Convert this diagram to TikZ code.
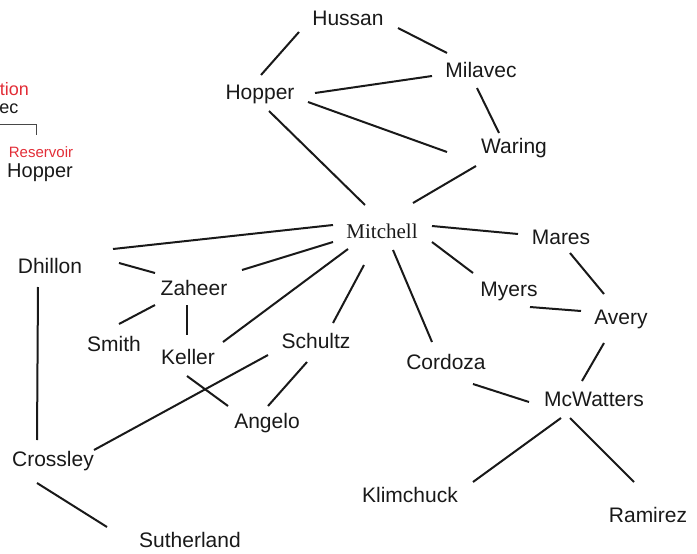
\documentclass[tikz,border=0pt]{standalone}
\usepackage{fontspec}
\setmainfont{Liberation Sans}
\newfontfamily\serifname{Liberation Serif}
\definecolor{tagred}{RGB}{226,45,55}
\definecolor{ink}{RGB}{25,25,25}
\begin{document}
\begin{tikzpicture}[x=1pt,y=-1pt,
  person/.style={font=\fontsize{21}{24}\selectfont, text=ink, text height=15pt, text depth=0pt, inner sep=0pt},
  tie/.style={line width=2pt, draw=ink},
  tag/.style={text=tagred, inner sep=0pt}]
\useasboundingbox (0,0) rectangle (697,554);
% legend fragment on the left edge
\node[tag, anchor=base east, font=\fontsize{18}{20}\selectfont] (legA) at (29,95) {tion};
\node[anchor=base east, inner sep=0pt, text=ink, font=\fontsize{18}{20}\selectfont] (legB) at (18.5,113) {ec};
\coordinate (legL) at (0,124);
\coordinate (legR) at (36,124);
\coordinate (legT) at (36,135);
\draw[line width=1pt, draw=ink!80] (legL) -- (legR) -- (legT);
\node[tag, anchor=base, font=\fontsize{15}{18}\selectfont] (legC) at (41,157) {Reservoir};
\node[anchor=base, inner sep=0pt, text=ink, font=\fontsize{20}{24}\selectfont] (legD) at (40,177) {Hopper};
% people
\node[person] (hus) at (348,18) {Hussan};
\node[person] (mil) at (481,70) {Milavec};
\node[person] (hop) at (260,92) {Hopper};
\node[person] (war) at (514,146) {Waring};
\node[person, font=\serifname\fontsize{21}{24}\selectfont, text height=14pt] (mit) at (382,231) {Mitchell};
\node[person] (mar) at (561,237) {Mares};
\node[person] (dhi) at (50,266) {Dhillon};
\node[person] (zah) at (194,288) {Zaheer};
\node[person] (mye) at (509,289) {Myers};
\node[person] (ave) at (621,317) {Avery};
\node[person] (smi) at (114,344) {Smith};
\node[person] (kel) at (188,357) {Keller};
\node[person] (sch) at (316,341) {Schultz};
\node[person] (cor) at (446,362) {Cordoza};
\node[person] (mcw) at (594,399) {McWatters};
\node[person] (ang) at (267,421) {Angelo};
\node[person] (cro) at (53,459) {Crossley};
\node[person] (kli) at (410,495) {Klimchuck};
\node[person] (ram) at (648,515) {Ramirez};
\node[person] (sut) at (190,540) {Sutherland};
% ties, each end set off from its person's centre
\draw[tie] ([shift={(-49,14)}]hus.center) -- ([shift={(1,-17)}]hop.center);
\draw[tie] ([shift={(50,10)}]hus.center) -- ([shift={(-34,-17)}]mil.center);
\draw[tie] ([shift={(55,1)}]hop.center) -- ([shift={(-49,6)}]mil.center);
\draw[tie] ([shift={(48,10)}]hop.center) -- ([shift={(-67,6)}]war.center);
\draw[tie] ([shift={(-4,18)}]mil.center) -- ([shift={(-15,-13)}]war.center);
\draw[tie] ([shift={(9,19)}]hop.center) -- ([shift={(-17,-26)}]mit.center);
\draw[tie] ([shift={(-38,20)}]war.center) -- ([shift={(31,-28)}]mit.center);
\draw[tie] ([shift={(-49,-6)}]mit.center) -- ([shift={(63,-17)}]dhi.center);
\draw[tie] ([shift={(-49,11)}]mit.center) -- ([shift={(48,-18)}]zah.center);
\draw[tie] ([shift={(-34,18)}]mit.center) -- ([shift={(35,-15)}]kel.center);
\draw[tie] ([shift={(-18,34)}]mit.center) -- ([shift={(17,-18)}]sch.center);
\draw[tie] ([shift={(11,19)}]mit.center) -- ([shift={(-14,-20)}]cor.center);
\draw[tie] ([shift={(50,11)}]mit.center) -- ([shift={(-36,-16)}]mye.center);
\draw[tie] ([shift={(50,-5)}]mit.center) -- ([shift={(-43,-3)}]mar.center);
\draw[tie] ([shift={(69,-3)}]dhi.center) -- ([shift={(-39,-15)}]zah.center);
\draw[tie] ([shift={(-39,17)}]zah.center) -- ([shift={(5,-20)}]smi.center);
\draw[tie] ([shift={(-7,17)}]zah.center) -- ([shift={(-1,-22)}]kel.center);
\draw[tie] ([shift={(-1,19)}]kel.center) -- ([shift={(-39,-15)}]ang.center);
\draw[tie] ([shift={(-9,21)}]sch.center) -- ([shift={(1,-15)}]ang.center);
\draw[tie] ([shift={(-48,14)}]sch.center) -- ([shift={(41,-9)}]cro.center);
\draw[tie] ([shift={(-12,21)}]dhi.center) -- ([shift={(-16,-19)}]cro.center);
\draw[tie] ([shift={(-16,24)}]cro.center) -- ([shift={(-83,-13)}]sut.center);
\draw[tie] ([shift={(27,22)}]cor.center) -- ([shift={(-65,3)}]mcw.center);
\draw[tie] ([shift={(9,16)}]mar.center) -- ([shift={(-17,-23)}]ave.center);
\draw[tie] ([shift={(21,18)}]mye.center) -- ([shift={(-40,-6)}]ave.center);
\draw[tie] ([shift={(-17,26)}]ave.center) -- ([shift={(-12,-18)}]mcw.center);
\draw[tie] ([shift={(-33,19)}]mcw.center) -- ([shift={(63,-13)}]kli.center);
\draw[tie] ([shift={(-24,19)}]mcw.center) -- ([shift={(-14,-33)}]ram.center);
\end{tikzpicture}
\end{document}
